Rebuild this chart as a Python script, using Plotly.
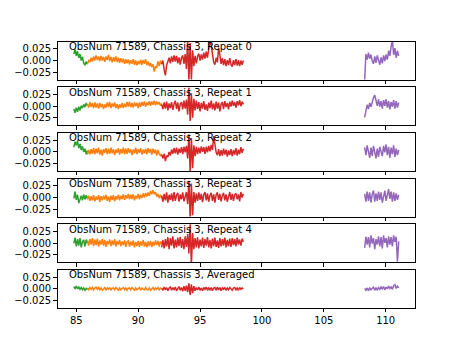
import numpy as np
import plotly.graph_objects as go

# x spans (start, end) of each coloured segment
green_span = (84.8, 85.9)
orange_span = (85.9, 91.9)
red_span = (91.9, 98.5)
purple_span = (108.3, 111.05)

panel_titles = ["ObsNum 71589, Chassis 3, Repeat 0", "ObsNum 71589, Chassis 3, Repeat 1",
                "ObsNum 71589, Chassis 3, Repeat 2", "ObsNum 71589, Chassis 3, Repeat 3",
                "ObsNum 71589, Chassis 3, Repeat 4", "ObsNum 71589, Chassis 3, Averaged"]

# values in units of 1e-3
green_r0 = [14, 24, 10, 20, 6, 14, 0, 8, -6, -10, -2, -8]
orange_r0 = [-8, 0, -3, 6, -2, 9, 0, 11, 1, 9, -1, 10, 0, 8, -3, 9, 1, 12, -1, 8, -4, 7, -2, 9, -3, 6, -5, 5,
             -4, 4, -7, 3, -6, 2, -8, 1, -7, 3, -9, 0, -10, -1, -8, 2, -9, 1, -7, 3, -10, -2, -12, -5, -14, -8,
             -24, -12, -16, -2, -12, 0, -8]
red_r0 = [-8, 0, -20, -32, -10, 0, 6, -6, 9, -3, 11, -2, 10, -6, 7, -9, 6, 11, -7, 14, -18, 45, -45, 38, -42,
          22, -12, 10, -6, 9, 15, 0, 13, 2, 17, 4, 19, 6, 25, 45, 32, 8, -3, -9, 6, -4, 28, 12, -7, 5, -10, 3,
          -12, 1, -10, 5, -9, -13, 1, -10, 3, -11, 1, -12, 0, -9, 0]
purple_r0 = [-42, 14, 2, 17, 4, 13, -1, -7, 9, -5, 11, -3, -9, 7, -6, 11, -1, 13, 2, 21, 10, 30, 45, 12, 27, 6,
             21, 10]

green_r1 = [-6, -14, -3, -12, -1, -9, 1, -4, 4, -2, 7, 1]
orange_r1 = [5, -3, 9, -2, 7, -4, 8, -3, 6, -5, 7, -2, 5, -6, 4, -3, 8, -2, 9, -4, 6, -1, 8, -4, 5, -6, 4, -3,
             7, -4, 6, -2, 9, -1, 10, -2, 7, -3, 8, 0, 7, -4, 8, -1, 9, 1, 10, -1, 8, 2, 11, 1, 10, 3, 12, 2, 10,
             4, 9, 1, 6]
red_r1 = [4, -6, 8, -5, 10, -9, 6, -4, 9, -8, 5, 12, -6, 8, -11, 4, 9, -7, 12, -5, 14, -18, 40, -32, 28, -25,
          16, -9, 12, -6, 9, -11, 7, -5, 11, -8, 4, -10, 8, -4, 12, -7, 6, -9, 10, -5, 8, -11, 4, 9, -6, 11, -2,
          7, -7, 10, -1, 12, 1, 9, -3, 11, 2, 13, 0, 10, 4]
purple_r1 = [-24, -6, 3, -6, 7, -1, 11, 18, 24, 8, 1, 15, -1, 11, -5, 13, 1, 15, -3, 11, -7, 9, -1, 13, -5, 11,
             -3, 8]

green_r2 = [10, 22, 14, 24, 8, 17, 4, 12, 0, 7, -5, 3]
orange_r2 = [-6, 4, -5, 6, -4, 8, -5, 7, -3, 9, -6, 5, -8, 6, -2, 8, -5, 7, -4, 9, -3, 6, -7, 5, -2, 8, -6, 6,
             -3, 9, -5, 7, -4, 8, -2, 6, -7, 5, -3, 9, -5, 6, -2, 8, -6, 5, -3, 7, -5, 8, -2, 6, -6, 7, -3, 5, -8,
             4, -5, -8, -4]
red_r2 = [-6, -14, -4, -20, -8, -11, 0, -8, 5, -4, 8, -3, 9, -6, 7, -2, 10, -5, 11, -1, 13, -14, 38, -45, 30,
          -35, 14, -9, 11, -5, 9, -3, 12, 0, 10, -4, 11, -1, 13, 1, 15, 4, 34, 12, -1, -7, 6, -9, 4, -8, 7, -6,
          5, -10, 3, -7, 6, -9, 4, -6, 8, -8, 5, -5, 10, -2, 7]
purple_r2 = [10, -7, 14, -1, -13, 9, -9, 13, -5, -14, 7, -11, 11, -3, -9, 13, -1, 16, -7, 11, -13, 9, -5, 14,
             -11, 7, -7, 4]

green_r3 = [-2, 13, -5, 6, -12, -2, 4, -6, 7, -4, 5, -2]
orange_r3 = [-4, 4, -7, 3, -6, 5, -8, 2, -5, 5, -9, 3, -6, 4, -4, 6, -7, 2, -9, 4, -5, 5, -8, 3, -4, 6, -6, 4,
             -3, 7, -5, 5, -2, 8, -4, 6, -3, 7, -6, 4, -2, 8, -4, 6, -1, 9, 0, 10, 2, 11, 4, 14, 7, 16, 7, 12, 2,
             8, -1, 6, -2]
red_r3 = [4, -9, 8, -6, 11, -11, 6, -5, 9, -8, 12, -7, 5, 10, -9, 7, -4, 11, -8, 6, 12, -14, 36, -45, 30, -38,
          12, -11, 9, -7, 11, -5, 8, -10, 6, 12, -6, 9, -9, 5, 10, -7, 7, -11, 6, 11, -5, 8, -8, 4, 10, -6, 7,
          -9, 5, 12, -5, 8, -7, 6, 9, -4, 7, -8, 12, 0, 8]
purple_r3 = [8, -9, 13, -7, 11, -11, 7, 15, -9, 9, -7, 13, -5, 11, -11, 7, 15, -7, 9, 18, -3, 13, -9, 11, -7, 9,
             -5, 6]

green_r4 = [0, 12, -7, 9, -5, 11, -9, 3, 7, -7, 8, 0]
orange_r4 = [6, -5, 9, -3, 11, -6, 8, -4, 10, -7, 6, -3, 9, -5, 7, -8, 5, -2, 8, -6, 6, -4, 9, -7, 5, -3, 7, -6,
             4, -4, 6, -8, 3, 5, -7, 4, -5, 6, -9, 3, -6, 5, -8, 4, -5, 7, -7, 3, -9, 4, -6, 5, -8, 3, -5, 6, -4,
             5, -7, 4, -2]
red_r4 = [-9, 7, -11, 9, -7, 13, -13, 11, -5, 15, -11, 8, -9, 12, -6, 14, -10, 9, -13, 15, -8, 20, -22, 42, -48,
          22, -13, 11, -9, 13, -11, 8, -7, 12, -10, 9, -5, 13, -9, 7, -11, 10, -6, 12, -8, 6, -10, 11, -7, 9, -5,
          12, -9, 7, -6, 10, -8, 11, -4, 9, -7, 12, -3, 8, -5, 10, 3]
purple_r4 = [-10, 14, -3, 13, -9, 17, -1, 11, -13, 9, -3, 15, -7, 13, -11, 17, 1, 11, -9, 15, -3, 13, -7, 17, 3,
             14, -40, 4]

green_avg = [5, 1, 6, 0, 4, -1, 3, -2, 2, -3, 1, -2]
orange_avg = [2, -2, 3, -1, 3, -2, 2, 4, -1, 3, -2, 2, -3, 1, 3, -2, 2, -1, 3, -3, 1, 2, -2, 3, -1, -3, 2, -2,
              1, 3, -2, 2, -3, 1, 2, -2, 3, -1, -3, 2, -2, 1, 3, -3, 2, -1, -2, 3, -1, -2, 2, -3, 1, 3, -2, 2,
              -1, 3, -2, 2, 0]
red_avg = [1, -3, 4, -2, 3, -4, 2, 4, -3, 3, -2, 4, -4, 2, 5, -3, 3, -5, 6, -4, 7, -7, 12, -13, 10, -9, 6, -4,
           3, -2, 4, -3, 2, -4, 3, -1, 4, -3, 2, -2, 3, -4, 2, 3, -3, 4, -2, 3, -4, 2, -1, 3, -3, 2, -2, 3, -1,
           -3, 2, 3, -2, 2, -3, 3, -1, 2, 0]
purple_avg = [1, -3, 2, -4, 3, -2, 1, 4, -3, 2, -2, 3, -1, 4, 0, 5, -2, 4, 0, 6, 1, 5, -1, 7, 9, 1, 6, 2]

panels = [
    (green_r0, orange_r0, red_r0, purple_r0),
    (green_r1, orange_r1, red_r1, purple_r1),
    (green_r2, orange_r2, red_r2, purple_r2),
    (green_r3, orange_r3, red_r3, purple_r3),
    (green_r4, orange_r4, red_r4, purple_r4),
    (green_avg, orange_avg, red_avg, purple_avg),
]
spans = [green_span, orange_span, red_span, purple_span]
colors = ["#2ca02c", "#ff7f0e", "#d62728", "#9467bd"]

W, H = 461, 346
x_dom = [57.6 / W, 414.9 / W]
top, bottom = 0.88, 0.11
h = (top - bottom) / 7.0
gap = 0.2 * h

fig = go.Figure()
font = dict(family="DejaVu Sans", size=10, color="black")
layout = dict(width=W, height=H, margin=dict(l=0, r=0, t=0, b=0), paper_bgcolor="white",
              plot_bgcolor="white", showlegend=False, font=font, annotations=[])

for i, segs in enumerate(panels):
    n = i + 1
    xa = "x" if n == 1 else f"x{n}"
    ya = "y" if n == 1 else f"y{n}"
    for vals, span, c in zip(segs, spans, colors):
        xs = np.linspace(span[0], span[1], len(vals))
        ys = np.array(vals) * 1e-3
        fig.add_trace(go.Scatter(x=xs, y=ys, mode="lines", line=dict(color=c, width=1.5),
                                 xaxis=xa, yaxis=ya, hoverinfo="skip"))
    ptop = top - i * (h + gap)
    pbot = ptop - h
    xkey = "xaxis" if n == 1 else f"xaxis{n}"
    ykey = "yaxis" if n == 1 else f"yaxis{n}"
    layout[xkey] = dict(domain=x_dom, anchor=ya, range=[83.49, 112.36], showgrid=False, zeroline=False,
                        showline=True, mirror=True, linecolor="black", linewidth=0.8,
                        ticks="outside", ticklen=3.5, tickwidth=0.8, tickcolor="black",
                        tickvals=[85, 90, 95, 100, 105, 110],
                        ticktext=["85", "90", "95", "100", "105", "110"],
                        showticklabels=(i == 5), tickfont=font)
    if n != 1:
        layout[xkey]["matches"] = "x"
    layout[ykey] = dict(domain=[pbot, ptop], anchor=xa, range=[-0.041, 0.041], showgrid=False,
                        zeroline=False, showline=True, mirror=True, linecolor="black", linewidth=0.8,
                        ticks="outside", ticklen=3.5, tickwidth=0.8, tickcolor="black",
                        tickvals=[-0.025, 0, 0.025], ticktext=["\u22120.025", "0.000", "0.025"],
                        tickfont=font)
    layout["annotations"].append(dict(text=panel_titles[i], x=84.25, y=0.030, xref=xa, yref=ya,
                                      xanchor="left", yanchor="middle", showarrow=False, font=font))

fig.update_layout(**layout)
fig.write_html("out.html")
